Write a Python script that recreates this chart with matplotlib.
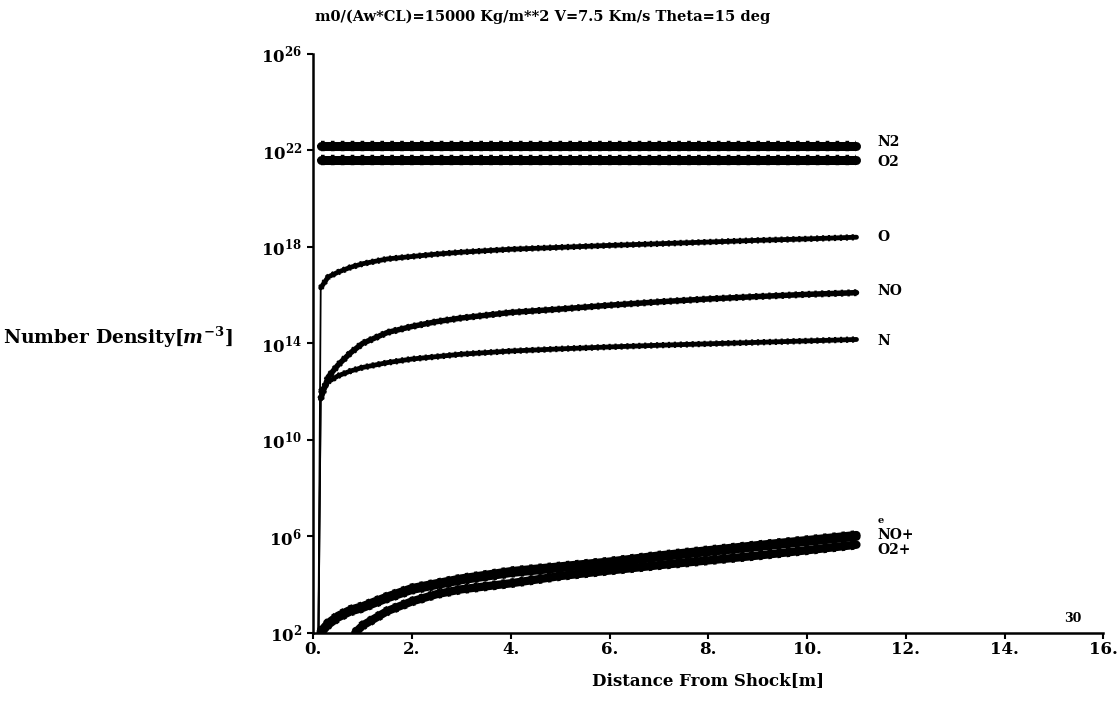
import numpy as np
import matplotlib
matplotlib.use("Agg")
import matplotlib.pyplot as plt
from matplotlib.ticker import FixedLocator, FuncFormatter

plt.rcParams['font.family'] = ['DejaVu Serif']
plt.rcParams['font.weight'] = 'bold'
plt.rcParams['mathtext.fontset'] = 'custom'
plt.rcParams['mathtext.rm'] = 'DejaVu Serif:bold'
plt.rcParams['mathtext.it'] = 'DejaVu Serif:italic:bold'
plt.rcParams['mathtext.bf'] = 'DejaVu Serif:bold'

# distance from shock [m]
x_pts = [0.1, 0.15, 0.3, 0.5, 0.75, 1, 1.5, 2, 2.5, 3, 4, 5, 6, 7, 8, 9, 10, 11]

# log10 of number density
n2_log = [22.2] * len(x_pts)
o2_log = [21.6] * len(x_pts)
o_log = [1.0, 16.3, 16.75, 16.95, 17.15, 17.3, 17.5, 17.6, 17.7, 17.78,
         17.9, 17.98, 18.06, 18.13, 18.2, 18.27, 18.33, 18.4]
no_log = [1.0, 11.7, 12.6, 13.1, 13.6, 14.0, 14.45, 14.7, 14.9, 15.05,
          15.28, 15.42, 15.58, 15.72, 15.84, 15.94, 16.03, 16.1]
n_log = [1.0, 12.0, 12.4, 12.65, 12.85, 13.0, 13.2, 13.35, 13.45, 13.55,
         13.68, 13.77, 13.85, 13.92, 13.98, 14.04, 14.1, 14.16]
e_log = [1.5, 2.05, 2.4, 2.7, 2.95, 3.1, 3.5, 3.85, 4.05, 4.25,
         4.55, 4.75, 4.95, 5.2, 5.42, 5.63, 5.84, 6.05]
nop_log = [1.4, 1.98, 2.33, 2.63, 2.88, 3.03, 3.43, 3.78, 3.98, 4.18,
           4.48, 4.68, 4.88, 5.13, 5.35, 5.56, 5.77, 5.98]
o2p_x = [0.75, 0.85, 1, 1.5, 2, 2.5, 3, 4, 5, 6, 7, 8, 9, 10, 11]
o2p_log = [1.8, 2.0, 2.3, 2.9, 3.3, 3.6, 3.8, 4.05, 4.35, 4.58,
           4.8, 5.0, 5.2, 5.42, 5.65]

species = ["N2", "O2", "O", "NO", "N", "e", "NO+", "O2+"]
label_log = [22.33, 21.5, 18.4, 16.15, 14.1, 6.65, 6.07, 5.44]

xticks = [0, 2, 4, 6, 8, 10, 12, 14, 16]
yticks_exp = [2, 6, 10, 14, 18, 22, 26]

fig = plt.figure(figsize=(11.19, 7.19), dpi=100)
ax = fig.add_axes([0.280, 0.120, 0.706, 0.805])


def beads(xs, logs, lw):
    ys = 10.0 ** np.array(logs)
    # thin jump from the shock, then the thick marker chain
    ax.plot(xs[:2], ys[:2], color='black', lw=1.3, zorder=2)
    ax.plot(xs[1:], ys[1:], color='black', lw=lw, solid_capstyle='round',
            zorder=3)
    ax.plot(xs[1:], ys[1:], color='black', lw=lw + 1.0, ls=(0, (0.35, 0.6)),
            zorder=3)


beads(x_pts, n2_log, 6.5)
beads(x_pts, o2_log, 6.5)
beads(x_pts, o_log, 3.5)
beads(x_pts, no_log, 4)
beads(x_pts, n_log, 3.5)
beads(x_pts, e_log, 6)
beads(x_pts, nop_log, 6)
beads(o2p_x, o2p_log, 6)

ax.set_yscale('log')
ax.set_xlim(0, 16)
ax.set_ylim(1e2, 1e26)
ax.minorticks_off()
ax.xaxis.set_major_locator(FixedLocator(xticks))
ax.xaxis.set_major_formatter(FuncFormatter(lambda v, p: "%d." % v))
ax.yaxis.set_major_locator(FixedLocator([10.0 ** k for k in yticks_exp]))
ax.yaxis.set_major_formatter(FuncFormatter(
    lambda v, p: r"$\mathbf{10^{%d}}$" % round(np.log10(v))))
ax.tick_params(axis='both', direction='out', length=4, width=1.5,
               labelsize=12, pad=2)
ax.tick_params(axis='y', pad=4)
for s in ['top', 'right']:
    ax.spines[s].set_visible(False)
for s in ['left', 'bottom']:
    ax.spines[s].set_linewidth(1.8)
for lab in ax.get_xticklabels() + ax.get_yticklabels():
    lab.set_fontweight('bold')

for name, lv in zip(species, label_log):
    fs = 7 if name == "e" else 10
    ax.text(11.42, 10.0 ** lv, name, fontsize=fs, fontweight='bold',
            ha='left', va='center')

fig.text(0.485, 0.976, "m0/(Aw*CL)=15000 Kg/m**2 V=7.5 Km/s Theta=15 deg",
         ha='center', va='center', fontsize=10.5, fontweight='bold')
fig.text(0.003, 1 - 337 / 719, r"Number Density[$m^{-3}$]",
         ha='left', va='center', fontsize=13.5, fontweight='bold')
ax.set_xlabel("Distance From Shock[m]", fontsize=12, fontweight='bold',
              labelpad=10)
fig.text(1073 / 1119, 1 - 618 / 719, "30", ha='center', va='center',
         fontsize=9, fontweight='bold')

fig.savefig("out.png", dpi=100)
